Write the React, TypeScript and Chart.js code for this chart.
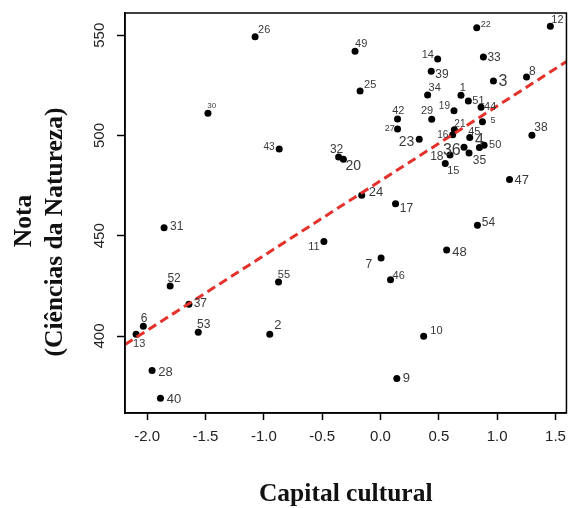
import React, { useEffect, useRef } from "react";
import { Chart, registerables } from "chart.js";
Chart.register(...registerables);

// Point identifiers (school / unit numbers)
const ids = [
  1, 2, 3, 4, 5, 6, 7, 8, 9, 10, 11, 12, 13, 14, 15, 16, 17, 18, 19, 20,
  21, 22, 23, 24, 25, 26, 27, 28, 29, 30, 31, 32, 33, 34, 35, 36, 37, 38, 39, 40,
  42, 43, 44, 45, 46, 47, 48, 49, 50, 51, 52, 53, 54, 55,
];
// Capital cultural (x)
const capital = [
  0.69, -0.949, 0.968, 0.848, 0.874, -2.033, 0.005, 1.252, 0.14, 0.37,
  -0.485, 1.456, -2.095, 0.49, 0.555, 0.619, 0.129, 0.596, 0.63, -0.318,
  0.633, 0.825, 0.332, -0.161, -0.175, -1.075, 0.146, -1.958, 0.439, -1.479,
  -1.855, -0.359, 0.882, 0.404, 0.759, 0.716, -1.642, 1.298, 0.435, -1.886,
  0.146, -0.868, 0.862, 0.765, 0.086, 1.106, 0.567, -0.218, 0.888, 0.753,
  -1.803, -1.562, 0.831, -0.874,
];
// Nota (Ciências da Natureza) (y)
const nota = [
  520.1, 400.9, 527.2, 494.0, 506.9, 404.9, 438.9, 529.2, 378.8, 399.9,
  447.1, 554.5, 400.9, 538.2, 486.1, 500.4, 466.0, 490.3, 512.4, 488.1,
  502.9, 553.8, 498.1, 470.2, 522.2, 549.2, 503.2, 382.8, 508.1, 511.1,
  454.0, 489.3, 539.2, 520.2, 491.3, 494.1, 415.8, 500.1, 532.0, 368.9,
  508.2, 493.3, 514.1, 499.0, 428.1, 478.1, 442.9, 542.0, 495.1, 517.2,
  424.9, 401.9, 455.2, 426.9,
];

// Regression line coefficients
const intercept = 477.4;
const slope = 37.3;

// Axes
const xMin = -2.19;
const xMax = 1.594;
const yMin = 361.6;
const yMax = 561.1;
const xTickValues = [-2.0, -1.5, -1.0, -0.5, 0.0, 0.5, 1.0, 1.5];
const yTickValues = [400, 450, 500, 550];

const xTitle = "Capital cultural";
const yTitleLines = ["Nota", "(Ciências da Natureza)"];

// Label placement per point: [dx, dy, fontSize, align]
const labelPlacement: [number, number, number, string][] = [
  [1.7, -7, 11, "c"], [8, -8.7, 13, "c"], [5, 1, 16, "l"], [0, -7.3, 16, "c"], [8, -1.5, 9, "l"],
  [0.7, -7, 12, "c"], [-9, 7, 12, "r"], [5.7, -5.5, 12, "c"], [6, 0, 13, "l"], [6.6, -5, 11, "l"],
  [-4.3, 5, 11, "r"], [1, -6, 11, "l"], [-3, 10, 11, "l"], [-3.7, -4, 11, "r"], [2, 8, 11, "l"],
  [-4.4, 0.7, 10, "r"], [4.3, 4.7, 12, "l"], [-6.5, 2, 12, "r"], [-4, -4, 10, "r"], [2, 7, 14, "l"],
  [0, -5, 10, "l"], [4, -3, 9, "l"], [-5, 3, 14, "r"], [7, -2.5, 13, "l"], [4, -6, 11, "l"],
  [3, -6.5, 11, "l"], [-2.7, -0.5, 9, "r"], [6.3, 1.7, 13, "l"], [-4.7, -8, 11, "c"], [3.8, -7.5, 8, "c"],
  [6, -0.6, 12, "l"], [-2, -7.5, 12, "c"], [4, 1, 12, "l"], [1, -7, 11, "l"], [3.7, 7.5, 12, "l"],
  [-3.3, 3.3, 16, "r"], [4.7, -0.7, 12, "l"], [2.3, -7.5, 12, "l"], [4, 3, 12, "l"], [6.4, 1, 13, "l"],
  [0.8, -8, 11, "c"], [-4.7, -2, 10, "r"], [3, -0.5, 11, "l"], [-1.6, -5.5, 11, "l"], [2, -4, 11, "l"],
  [5, 1, 13, "l"], [5.6, 2, 13, "l"], [0, -7, 11, "l"], [5, 0, 11, "l"], [4, -0.5, 11, "l"],
  [-2.7, -7.5, 12, "l"], [-1.3, -7.5, 12, "l"], [4.4, -3, 12, "l"], [-0.7, -7.5, 11, "l"],
];

const SANS = '"Liberation Sans", Arial, sans-serif';
const SERIF = '"Liberation Serif", "Times New Roman", serif';

const decorPlugin = {
  id: "decor",
  afterDatasetsDraw(chart: any) {
    const { ctx, chartArea: a, scales } = chart;
    const xs = scales.x;
    const ys = scales.y;
    ctx.save();
    // point labels
    ctx.fillStyle = "#3a3a3a";
    ctx.textBaseline = "middle";
    ids.forEach((id, i) => {
      const [dx, dy, size, al] = labelPlacement[i];
      ctx.font = `${size}px ${SANS}`;
      ctx.textAlign = al === "l" ? "left" : al === "r" ? "right" : "center";
      ctx.fillText(String(id), xs.getPixelForValue(capital[i]) + dx, ys.getPixelForValue(nota[i]) + dy);
    });
    // box
    ctx.strokeStyle = "#000";
    ctx.lineWidth = 1.5;
    ctx.strokeRect(a.left, a.top, a.right - a.left, a.bottom - a.top);
    // y tick labels (rotated, as in R)
    ctx.fillStyle = "#222";
    ctx.font = `15px ${SANS}`;
    ctx.textAlign = "center";
    ctx.textBaseline = "middle";
    ys.ticks.forEach((t: any) => {
      ctx.save();
      ctx.translate(a.left - 25, ys.getPixelForValue(t.value));
      ctx.rotate(-Math.PI / 2);
      ctx.fillText(String(t.value), 0, 0);
      ctx.restore();
    });
    // titles
    ctx.fillStyle = "#111";
    ctx.font = `bold 25.5px ${SERIF}`;
    ctx.fillText(xTitle, (a.left + a.right) / 2, 494);
    ctx.save();
    ctx.translate(24, 221);
    ctx.rotate(-Math.PI / 2);
    ctx.fillText(yTitleLines[0], 0, 0);
    ctx.restore();
    ctx.save();
    ctx.translate(55, 232);
    ctx.rotate(-Math.PI / 2);
    ctx.fillText(yTitleLines[1], 0, 0);
    ctx.restore();
    ctx.restore();
  },
};

export default function App() {
  const ref = useRef<HTMLCanvasElement | null>(null);
  useEffect(() => {
    document.body.style.margin = "0";
    const canvas = ref.current!;
    const points = capital.map((c, i) => ({ x: c, y: nota[i] }));
    const line = [
      { x: xMin, y: intercept + slope * xMin },
      { x: xMax, y: intercept + slope * xMax },
    ];
    const chart = new Chart(canvas, {
      type: "scatter",
      data: {
        datasets: [
          {
            data: line,
            showLine: true,
            borderColor: "#e4312b",
            borderWidth: 3,
            borderDash: [9, 5],
            pointRadius: 0,
            fill: false,
          } as any,
          {
            data: points,
            pointRadius: 3.5,
            pointBackgroundColor: "#000",
            pointBorderWidth: 0,
            pointHoverRadius: 3.5,
          },
        ],
      },
      options: {
        responsive: false,
        devicePixelRatio: 1,
        animation: false,
        events: [],
        layout: { padding: { top: 13, right: 3, left: 0, bottom: 0 } },
        plugins: { legend: { display: false }, tooltip: { enabled: false } },
        scales: {
          x: {
            type: "linear",
            min: xMin,
            max: xMax,
            afterBuildTicks: (s: any) => {
              s.ticks = xTickValues.map((v) => ({ value: v }));
            },
            afterFit: (s: any) => {
              s.height = 95;
            },
            grid: { drawOnChartArea: false, drawTicks: true, tickLength: 7, tickColor: "#000", tickWidth: 1.5 },
            border: { display: true, color: "#000", width: 1.5 },
            ticks: {
              padding: 8,
              color: "#222",
              font: { family: SANS, size: 15 },
              callback: (v: any) => Number(v).toFixed(1),
            },
          },
          y: {
            type: "linear",
            min: yMin,
            max: yMax,
            afterBuildTicks: (s: any) => {
              s.ticks = yTickValues.map((v) => ({ value: v }));
            },
            afterFit: (s: any) => {
              s.width = 125;
            },
            grid: { drawOnChartArea: false, drawTicks: true, tickLength: 8, tickColor: "#000", tickWidth: 1.5 },
            border: { display: true, color: "#000", width: 1.5 },
            ticks: { display: false },
          },
        },
      },
      plugins: [decorPlugin],
    });
    return () => chart.destroy();
  }, []);
  return (
    <div style={{ width: 574, height: 508 }}>
      <canvas ref={ref} width={574} height={508} />
    </div>
  );
}
